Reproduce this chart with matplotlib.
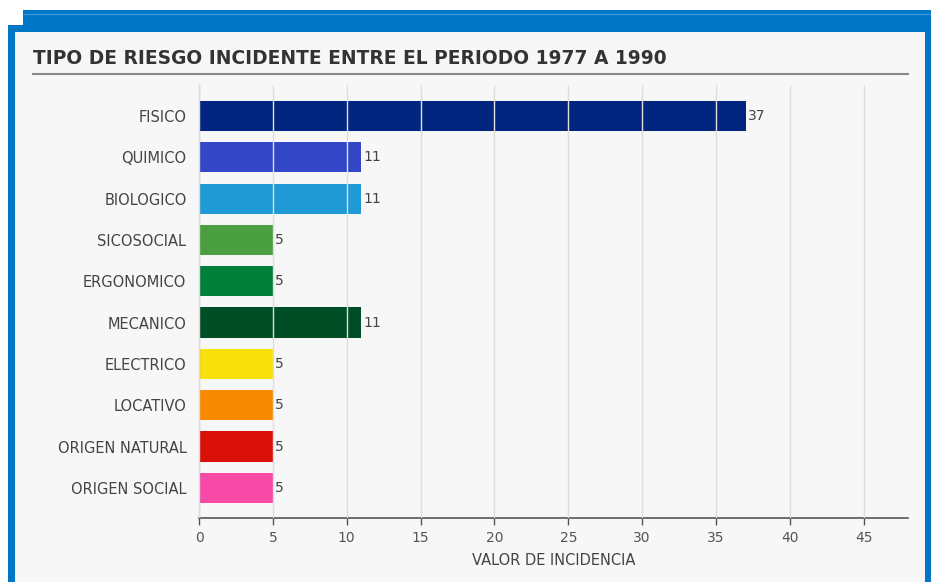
import matplotlib.pyplot as plt
from matplotlib.patches import Rectangle
from matplotlib.lines import Line2D

categories = ['FISICO', 'QUIMICO', 'BIOLOGICO', 'SICOSOCIAL', 'ERGONOMICO',
              'MECANICO', 'ELECTRICO', 'LOCATIVO', 'ORIGEN NATURAL', 'ORIGEN SOCIAL']
values = [37, 11, 11, 5, 5, 11, 5, 5, 5, 5]
colors = ['#002680', '#3347c8', '#1f9ad4', '#4aa040', '#007f3a',
          '#004e25', '#f8e10a', '#f78a00', '#d9100a', '#f64aa6']
xticks = [0, 5, 10, 15, 20, 25, 30, 35, 40, 45]

W, H = 931, 582
fig = plt.figure(figsize=(W / 100, H / 100), dpi=100)
fig.patch.set_facecolor('white')

def frect(x0, y0, x1, y1, color, z=0):
    # pixel box -> figure coords
    fig.patches.append(Rectangle((x0 / W, 1 - y1 / H), (x1 - x0) / W, (y1 - y0) / H,
                                 transform=fig.transFigure, facecolor=color,
                                 edgecolor='none', zorder=z))

# blue frame and light panel
frect(23, 10, W, 26, '#0077c6')
frect(8, 25, W, H, '#0077c6')
frect(15, 32, 925, H, '#f7f7f7', z=1)
fig.lines.append(Line2D([24 / W, 1], [1 - 14 / H, 1 - 14 / H], transform=fig.transFigure,
                        color='#3a9ae0', lw=0.8))

# title and underline
fig.text(33 / W, 1 - 58 / H, 'TIPO DE RIESGO INCIDENTE ENTRE EL PERIODO 1977 A 1990',
         fontsize=13.4, fontweight='bold', color='#333333', va='center', ha='left', zorder=3)
fig.lines.append(Line2D([33 / W, 908 / W], [1 - 74 / H, 1 - 74 / H], transform=fig.transFigure,
                        color='#8a8a8a', lw=1.5, zorder=3))

ax = fig.add_axes([199 / W, 1 - 518 / H, (908 - 199) / W, (518 - 85) / H])
ax.set_facecolor('none')
ax.set_zorder(2)

ypos = list(range(len(categories)))
ax.barh(ypos, values, height=0.73, color=colors, zorder=1)
for y, v in zip(ypos, values):
    ax.text(v + 0.15, y, str(v), va='center', ha='left', fontsize=10, color='#444444')

ax.set_xlim(0, 48)
ax.set_ylim(9.73, -0.75)
ax.set_yticks(ypos)
ax.set_yticklabels(categories, fontsize=10.5, color='#444444')
ax.set_xticks(xticks)
ax.set_xticklabels([str(t) for t in xticks], fontsize=10, color='#555555')
ax.tick_params(axis='y', length=0, pad=9)
ax.tick_params(axis='x', length=5, width=1, color='#555555', pad=4)
ax.set_axisbelow(False)
ax.grid(axis='x', color='#dedede', lw=1, zorder=2)
ax.set_xlabel('VALOR DE INCIDENCIA', fontsize=10.5, color='#444444', labelpad=6)

for s in ['top', 'right']:
    ax.spines[s].set_visible(False)
ax.spines['left'].set_color('#333333')
ax.spines['bottom'].set_color('#555555')
ax.spines['bottom'].set_linewidth(1.2)

fig.savefig('out.png', dpi=100, facecolor=fig.get_facecolor())
